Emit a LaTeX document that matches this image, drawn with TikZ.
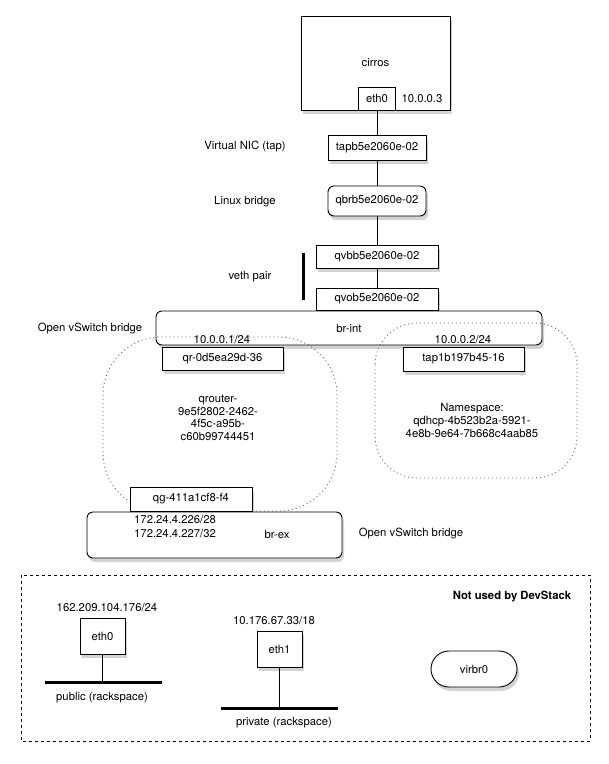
\documentclass[tikz,border=0pt]{standalone}
\usepackage{fontspec}
\setmainfont{TeX Gyre Heros}
\usetikzlibrary{shadows}

\begin{document}
\begin{tikzpicture}[x=1pt,y=-1pt,
  every node/.style={font=\fontsize{11.3}{12.5}\selectfont},
  port/.style={draw,fill=white,inner sep=0pt,line width=0.9pt,
    drop shadow={shadow xshift=2pt,shadow yshift=-4pt,opacity=0.35}},
  bridge/.style={port,rounded corners=6pt},
  nspace/.style={dash pattern=on 1pt off 3pt,line width=0.9pt,black!60},
  wire/.style={line width=3pt}]
  \useasboundingbox (0,0) rectangle (609,764);

  % the instance and its chain of devices
  \node[port,minimum width=149pt,minimum height=94pt] (cirros) at (375.5,63) {cirros};
  \node[draw,fill=white,inner sep=0pt,line width=0.9pt,minimum width=37pt,minimum height=23pt] (vmeth) at (377,98.5) {eth0};
  \node at (422,99) {10.0.0.3};
  \node[port,minimum width=98pt,minimum height=25pt] (tapdev) at (377,147.5) {tapb5e2060e-02};
  \node[bridge,minimum width=98pt,minimum height=30pt] (qbr) at (377,201) {qbrb5e2060e-02};
  \node[port,minimum width=122pt,minimum height=23pt] (qvb) at (377,256.5) {qvbb5e2060e-02};
  \node[port,minimum width=122pt,minimum height=22pt] (qvo) at (377,299) {qvob5e2060e-02};
  \node at (245,147) {Virtual NIC (tap)};
  \node at (245,202) {Linux bridge};
  \node at (250,277) {veth pair};
  \draw[wire] (303,253) -- (303,300);
  \draw (vmeth) -- (tapdev);
  \draw (tapdev) -- (qbr);
  \draw (qbr) -- (qvb);
  \draw (qvb) -- (qvo);

  % integration bridge
  \node[bridge,minimum width=386pt,minimum height=34pt] (brint) at (349,328) {br-int};
  \node at (90,329) {Open vSwitch bridge};
  \node at (222,339) {10.0.0.1/24};
  \node at (463,339) {10.0.0.2/24};
  \node[port,minimum width=121pt,minimum height=23pt] (qrport) at (222.5,358.5) {qr-0d5ea29d-36};
  \node[port,minimum width=121pt,minimum height=24pt] (dhcpport) at (463.5,359) {tap1b197b45-16};

  % namespaces
  \draw[nspace,rounded corners=58pt] (103,337) rectangle (337,511);
  \draw[nspace,rounded corners=42pt] (375,323) rectangle (577,478);
  \node[align=center] (qrouter) at (218,418) {qrouter-\\9e5f2802-2462-\\4f5c-a95b-\\c60b99744451};
  \node[align=center,font=\fontsize{11.3}{13}\selectfont] (qdhcp) at (472,420) {Namespace:\\qdhcp-4b523b2a-5921-\\4e8b-9e64-7b668c4aab85};

  % external bridge
  \node[port,minimum width=122pt,minimum height=24pt] (qgport) at (191,499) {qg-411a1cf8-f4};
  \node[bridge,minimum width=255pt,minimum height=46pt] (brex) at (214.5,535) {};
  \node at (277,534) {br-ex};
  \node[anchor=west,align=left,inner sep=0pt,font=\fontsize{11.3}{14}\selectfont] at (134,526) {172.24.4.226/28\\172.24.4.227/32};
  \node at (411,534) {Open vSwitch bridge};

  % host interfaces
  \draw[dashed,line width=0.8pt] (21,575) rectangle (590,741);
  \node[font=\fontsize{11.3}{12.5}\selectfont\bfseries] at (512,597) {Not used by DevStack};

  \node at (107,607) {162.209.104.176/24};
  \node[port,minimum width=45pt,minimum height=36pt] (pubeth) at (102.5,636) {eth0};
  \coordinate (publeft) at (45,682);
  \coordinate (pubright) at (162,682);
  \draw[wire] (publeft) -- (pubright);
  \draw (pubeth) -- (pubeth |- publeft);
  \node at (102,698) {public (rackspace)};

  \node at (274,620) {10.176.67.33/18};
  \node[port,minimum width=45pt,minimum height=36pt] (priveth) at (279.5,649) {eth1};
  \coordinate (privleft) at (221,708);
  \coordinate (privright) at (338,708);
  \draw[wire] (privleft) -- (privright);
  \draw (priveth) -- (priveth |- privleft);
  \node at (284,723) {private (rackspace)};

  \node[port,rounded corners=18pt,minimum width=86pt,minimum height=36pt] (virbr) at (474,669) {virbr0};
\end{tikzpicture}
\end{document}
